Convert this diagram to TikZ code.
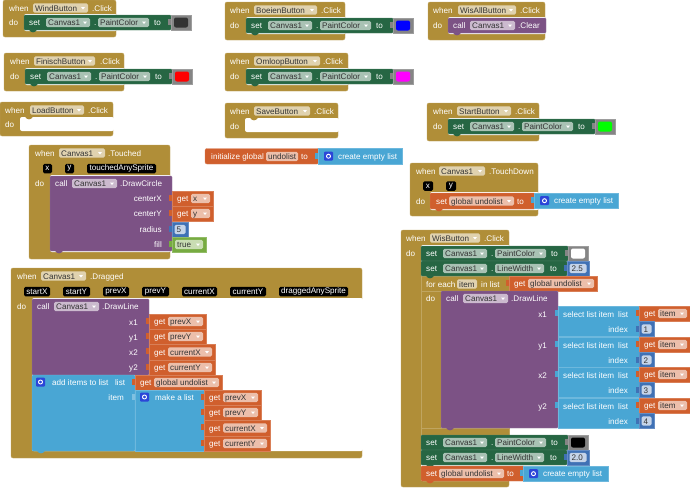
\documentclass[tikz,border=0pt]{standalone}
\usepackage{fontspec}
\setmainfont{Liberation Sans}
\definecolor{ctrlbr}{HTML}{B08E38}
\definecolor{setgr}{HTML}{266643}
\definecolor{callpu}{HTML}{7C5285}
\definecolor{varor}{HTML}{D05F2D}
\definecolor{listbl}{HTML}{49A6D4}
\definecolor{mathbl}{HTML}{3F71B5}
\definecolor{logicgr}{HTML}{77AB41}
\definecolor{swatchgr}{HTML}{858585}
\definecolor{mutblue}{HTML}{2B46D8}
\definecolor{pbr}{HTML}{E0D2AF}
\definecolor{pgr}{HTML}{A9C2B4}
\definecolor{ppu}{HTML}{CBBACE}
\definecolor{por}{HTML}{ECBFAB}
\definecolor{pmb}{HTML}{C5D4E9}
\definecolor{plg}{HTML}{C9DDB3}
\definecolor{ptext}{HTML}{333333}
\definecolor{swmagenta}{HTML}{FF00FF}
\definecolor{swgreen}{HTML}{00FF00}
\definecolor{swblue}{HTML}{0000FF}
\definecolor{swred}{HTML}{FF0000}
\tikzset{
  txt/.style={anchor=base west, inner sep=0pt, font=\fontsize{8.1}{9}\selectfont},
  block/.style={fill=#1, draw=#1!80!white, line width=.4pt},
  argbox/.style={fill=black, text=white, rounded corners=1.5pt, inner sep=0pt, minimum height=9.5pt, font=\fontsize{8.1}{9}\selectfont}
}
\newcounter{lab}
% plain text, its middle at height #2
\newcommand{\lab}[4][white]{\stepcounter{lab}\node[txt, text=#1] (t\arabic{lab}) at ([yshift=-3pt]#2,#3) {#4};}
\newcommand{\rlab}[3]{\stepcounter{lab}\node[txt, anchor=base east, text=white] (t\arabic{lab}) at ([yshift=-3pt]#1,#2) {#3};}
% field: colour, left, right, middle, text
\newcommand{\pill}[5]{\fill[#1, rounded corners=1.5pt] (#2,#4-4.7) rectangle (#3,#4+4.7);
  \lab[ptext]{#2+2}{#4}{#5}
  \fill[white] ([shift={(-7,-1)}]#3,#4) -- ([shift={(-3,-1)}]#3,#4) -- ([shift={(-5,1.5)}]#3,#4) -- cycle;}
\newcommand{\plainpill}[5]{\fill[#1, rounded corners=1.5pt] (#2,#4-4.7) rectangle (#3,#4+4.7);
  \lab[ptext]{#2+2}{#4}{#5}}
\newcommand{\vtab}[3]{\fill[#1] ([shift={(-3.5,4)}]#2,#3) rectangle ([shift={(.5,10)}]#2,#3);}
\newcommand{\ptab}[3]{\fill[#1] ([shift={(5,-.3)}]#2,#3) .. controls ([shift={(7,3.2)}]#2,#3) and ([shift={(11,3.2)}]#2,#3) .. ([shift={(13,-.3)}]#2,#3) -- cycle;}
% event block: x1,y1,x2,y2, inner left, inner top, inner bottom
\newcommand{\hatb}[7]{\path[block=ctrlbr, rounded corners=2pt] (#1,#2) rectangle (#3,#4);
  \fill[white, rounded corners=2pt] (#5,#6) rectangle (#3+1,#7);}
\newcommand{\parg}[4]{\stepcounter{lab}\node[argbox, minimum width={(#2-#1)*1pt}] (t\arabic{lab}) at ({(#1+#2)/2},#3) {#4};}
\newcommand{\mutator}[2]{\fill[mutblue, rounded corners=1pt] (#1,#2-4.5) rectangle (#1+9,#2+4.5);
  \draw[white, line width=.9pt] (#1+4.5,#2) circle (2pt);}
\newcommand{\getv}[5]{\pgfmathsetmacro{\ymid}{.5*(#3)+.5*(#4)}\vtab{varor}{#1}{#3}\path[block=varor] (#1,#3) rectangle (#2,#4);
  \lab{#1+5}{\ymid}{get}\pill{por}{#1+19}{#2-3}{\ymid}{#5}}
\newcommand{\emptylist}[3]{\vtab{listbl}{#1}{#2}\path[block=listbl] (#1,#2) rectangle (#1+#3,#2+15.5);
  \mutator{#1+6}{#2+7.7}\lab{#1+20}{#2+7.7}{create empty list}}
\newcommand{\mathv}[4]{\vtab{mathbl}{#1}{#3}\path[block=mathbl] (#1,#3) rectangle (#2,#3+15);
  \plainpill{pmb}{#1+2.5}{#2-2.5}{#3+7.5}{#4}}
\newcommand{\canvasset}[1]{\path[block=setgr, rounded corners=1pt] (0,0) rectangle (#1,15);
  \ptab{setgr}{0}{15}
  \lab{5}{7.5}{set}\pill{pgr}{22}{66}{7.5}{Canvas1}\lab{70}{7.5}{.}}
\newcommand{\setpaint}[3]{\begin{scope}[shift={(#1,#2)}]
  \canvasset{147}\pill{pgr}{74}{125}{7.5}{PaintColor}\lab{130}{7.5}{to}
  \vtab{swatchgr}{147}{0}\path[block=swatchgr] (147,0) rectangle (167,15);
  \fill[#3, rounded corners=2pt] (150,2.5) rectangle (164,12.5);
  \end{scope}}
\newcommand{\setwidth}[3]{\begin{scope}[shift={(#1,#2)}]
  \canvasset{146}\pill{pgr}{74}{123}{7.5}{LineWidth}\lab{129}{7.5}{to}
  \mathv{146}{168}{0}{#3}
  \end{scope}}
\newcommand{\callhead}[3]{\lab{#1+5}{#2+7.5}{call}\pill{ppu}{#1+22}{#1+67}{#2+7.5}{Canvas1}\lab{#1+70}{#2+7.5}{#3}}
\begin{document}
\begin{tikzpicture}[x=1pt, y=-1pt]
\useasboundingbox (0,0) rectangle (690,488);
% WindButton and FinischButton:
\hatb{3}{0}{116}{37}{24}{14}{31}
\lab{9}{8}{when}\pill{pbr}{33}{88}{8}{WindButton}\lab{92}{8}{.Click}\lab{9}{22}{do}
\setpaint{24}{15}{ptext}
\hatb{4}{53}{124}{91}{25}{68}{85}
\lab{10}{61}{when}\pill{pbr}{34}{95}{61}{FinischButton}\lab{100}{61}{.Click}\lab{10}{76}{do}
\setpaint{25}{69}{swred}
% LoadButton:
\hatb{0}{102}{113}{136}{20}{117}{131}
\ptab{ctrlbr}{20}{117}
\lab{5}{110}{when}\pill{pbr}{30}{84}{110}{LoadButton}\lab{88}{110}{.Click}\lab{5}{124}{do}
% BoeienButton, OmloopButton, SaveButton:
\hatb{225}{2}{345}{40}{246}{17}{34}
\lab{230}{10}{when}\pill{pbr}{254}{317}{10}{BoeienButton}\lab{321}{10}{.Click}\lab{230}{25}{do}
\setpaint{246}{18}{swblue}
\hatb{225}{53}{348}{91}{246}{68}{85}
\lab{230}{61}{when}\pill{pbr}{254}{320}{61}{OmloopButton}\lab{323}{61}{.Click}\lab{230}{76}{do}
\setpaint{246}{69}{swmagenta}
\hatb{225}{103}{338}{138}{245}{118}{132}
\ptab{ctrlbr}{245}{118}
\lab{230}{111}{when}\pill{pbr}{254}{310}{111}{SaveButton}\lab{314}{111}{.Click}\lab{230}{126}{do}
% Global variable:
\path[block=varor, rounded corners=2pt] (205,148.5) rectangle (319,164);
\lab{211}{156.5}{initialize global}\plainpill{por}{266}{298}{156.5}{undolist}\lab{301}{156.5}{to}
\emptylist{318}{148.5}{84}
% WisAllButton and StartButton:
\hatb{428}{2}{545}{40}{448}{17}{34}
\lab{433}{10}{when}\pill{pbr}{458}{516}{10}{WisAllButton}\lab{520}{10}{.Click}\lab{433}{25}{do}
\path[block=callpu, rounded corners=1pt] (448,18) rectangle (546,33);
\ptab{callpu}{448}{33}
\callhead{448}{18}{.Clear}
\hatb{427}{103}{539}{141}{448}{118}{135}
\lab{433}{111}{when}\pill{pbr}{457}{511}{111}{StartButton}\lab{515}{111}{.Click}\lab{433}{126}{do}
\setpaint{448}{119}{swgreen}
% Canvas1.TouchDown:
\hatb{410}{163}{538}{216}{430}{192}{210}
\lab{416}{171}{when}\pill{pbr}{439}{485}{171}{Canvas1}\lab{489}{171}{.TouchDown}\lab{416}{201}{do}
\parg{423}{433}{186}{x}\parg{446}{456}{186}{y}
\path[block=varor, rounded corners=1pt] (430,193) rectangle (535,209);
\ptab{varor}{430}{209}
\lab{436}{201}{set}\pill{por}{449}{514}{201}{global undolist}\lab{517}{201}{to}
\emptylist{534}{193}{84}
% Canvas1.Touched:
\hatb{29}{145}{170}{259}{50}{175}{252}
\lab{35}{153}{when}\pill{pbr}{59}{105}{153}{Canvas1}\lab{108}{153}{.Touched}\lab{35}{183}{do}
\parg{43}{52}{168.5}{x}\parg{65}{74}{168.5}{y}\parg{87}{156}{168.5}{touchedAnySprite}
\path[block=callpu, rounded corners=1pt] (50,176) rectangle (172,251);
\ptab{callpu}{50}{251}
\callhead{50}{176}{.DrawCircle}
\foreach \yy/\name in {198/centerX,213/centerY,229/radius,244/fill} {\rlab{162}{\yy}{\name}}
\getv{172}{213}{191}{206}{x}
\getv{172}{213}{206}{221}{y}
\mathv{172}{188}{222}{5}
\vtab{logicgr}{172}{237}\path[block=logicgr] (172,237) rectangle (206,252);
\pill{plg}{175}{203}{244.5}{true}
% Canvas1.Dragged:
\hatb{11}{268}{362}{458}{32}{298}{451}
\lab{17}{276}{when}\pill{pbr}{41}{86}{276}{Canvas1}\lab{90}{276}{.Dragged}\lab{17}{306}{do}
\foreach \xa/\xb/\name in {24/50/startX,63/90/startY,103/129/prevX,142/169/prevY,182/217/currentX,230/266/currentY,279/348/draggedAnySprite}
  {\parg{\xa}{\xb}{291.5}{\name}}
\path[block=callpu, rounded corners=1pt] (32,299) rectangle (149,375);
\callhead{32}{299}{.DrawLine}
\foreach \yy/\name in {322/x1,337/y1,352/x2,367/y2} {\rlab{138}{\yy}{\name}}
\getv{149}{206}{314}{329}{prevX}
\getv{149}{206}{329}{344}{prevY}
\getv{149}{215}{344}{360}{currentX}
\getv{149}{215}{360}{375}{currentY}
\path[block=listbl, rounded corners=1pt] (32,375) rectangle (135,451);
\ptab{listbl}{32}{451}
\mutator{36}{382}\lab{52}{382}{add items to list}\lab{115}{382}{list}\rlab{124}{397}{item}
\getv{135}{222}{375}{390}{global undolist}
\vtab{listbl!70!white}{135}{390}\path[block=listbl] (135,390) rectangle (204,451);
\mutator{140}{397}\lab{155}{397}{make a list}
\getv{204}{261}{390}{405}{prevX}
\getv{204}{261}{405}{420}{prevY}
\getv{204}{270}{420}{436}{currentX}
\getv{204}{270}{436}{451}{currentY}
% WisButton:
\hatb{401}{230}{509}{487}{421}{245}{481}
\lab{406}{238}{when}\pill{pbr}{430}{480}{238}{WisButton}\lab{484}{238}{.Click}\lab{406}{253}{do}
\path[block=ctrlbr] (421,276) rectangle (509,291);
\path[block=ctrlbr] (421,291) rectangle (441,435);
\path[block=ctrlbr] (421,428) rectangle (509,435);
\setpaint{421}{246}{white}
\setwidth{421}{261}{2.5}
\lab{426}{284}{for each}\plainpill{pbr}{457}{477}{284}{item}\lab{481}{284}{in list}\lab{426}{298}{do}
\getv{509}{597}{276}{291}{global undolist}
\path[block=callpu, rounded corners=1pt] (441,291) rectangle (558,428);
\ptab{callpu}{441}{428}
\callhead{441}{291}{.DrawLine}
\foreach \yy/\name/\idx in {306/x1/1,337/y1/2,367/x2/3,398/y2/4} {
  \rlab{547}{\yy+8}{\name}
  \vtab{listbl}{558}{\yy}\path[block=listbl] (558,\yy) rectangle (639,\yy+30.5);
  \lab{563}{\yy+8}{select list item}\lab{618}{\yy+8}{list}\rlab{628}{\yy+23}{index}
  \getv{639}{690}{\yy}{\yy+15}{item}
  \mathv{639}{654}{\yy+15.5}{\idx}
}
\setpaint{421}{435}{black}
\setwidth{421}{450}{2.0}
\path[block=varor, rounded corners=1pt] (421,466) rectangle (524,481);
\ptab{varor}{421}{481}
\lab{426}{473.5}{set}\pill{por}{439}{504}{473.5}{global undolist}\lab{507}{473.5}{to}
\emptylist{523}{466}{85}
\end{tikzpicture}
\end{document}
